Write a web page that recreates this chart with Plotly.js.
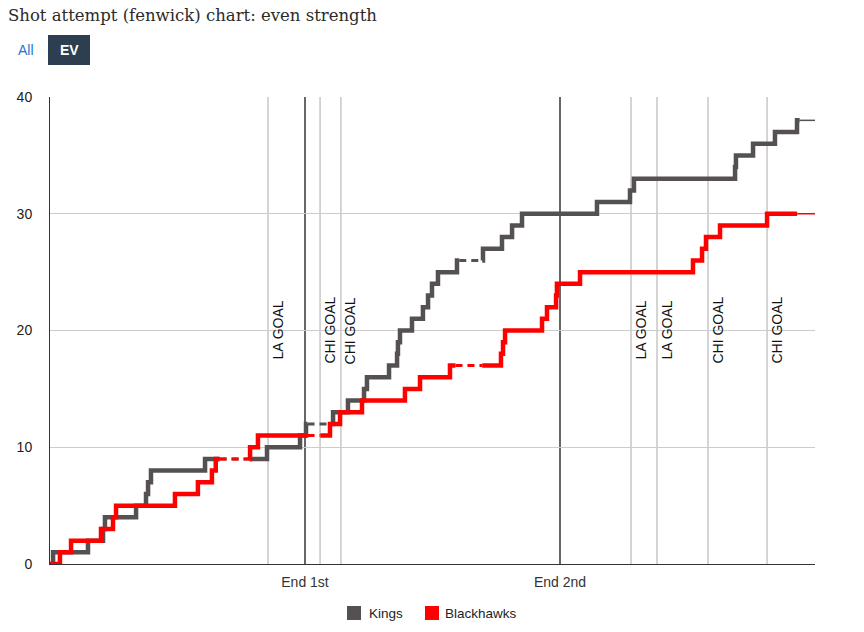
<!DOCTYPE html>
<html>
<head>
<meta charset="utf-8">
<script src="https://cdn.plot.ly/plotly-3.0.1.min.js"></script>
<style>
  html, body { margin: 0; padding: 0; background: #fff; }
  #chart { width: 864px; height: 632px; }
</style>
</head>
<body>
<div id="chart"></div>
<script>
// ---- Data (game time in minutes, cumulative even-strength fenwick) ----
const kingsTimes  = [0.24, 2.98, 4.16, 4.31, 6.75, 7.53, 7.69, 7.92, 12.16, 17.02,
                     19.61, 20.08, 22.2, 23.37, 24.63, 24.86, 26.59, 27.22, 27.29, 27.45,
                     28.39, 29.25, 29.65, 29.96, 30.43, 31.92, 33.96, 35.45, 36.24, 37.02,
                     42.9, 45.49, 45.8, 53.73, 53.8, 55.14, 56.86, 58.59];
const kingsCounts = [1, 2, 3, 4, 5, 6, 7, 8, 9, 10,
                     11, 12, 13, 14, 15, 16, 17, 18, 19, 20,
                     21, 22, 23, 24, 25, 26, 27, 28, 29, 30,
                     31, 32, 33, 34, 35, 36, 37, 38];
const hawksTimes  = [0.78, 1.65, 4.0, 4.94, 5.18, 9.8, 11.6, 12.7, 13.0, 15.69,
                     16.31, 21.96, 22.75, 24.47, 27.84, 29.02, 31.37, 35.37, 35.53, 35.69,
                     38.59, 38.98, 39.69, 39.76, 41.57, 50.43, 51.14, 51.45, 52.55, 56.24];
const hawksCounts = [1, 2, 3, 4, 5, 6, 7, 8, 9, 10,
                     11, 12, 13, 14, 15, 16, 17, 18, 19, 20,
                     21, 22, 23, 24, 25, 26, 27, 28, 29, 30];
// not-even-strength stretches (drawn dashed) and the trailing stretch (thin)
const kingsDashed = [[13.3, 15.65], [20.2, 22.0], [32.1, 33.9]];
const hawksDashed = [[13.3, 15.65], [20.2, 21.2], [31.8, 33.9]];
const kingsTailFrom = 58.8;
const hawksTailFrom = 58.6;
const gameEnd = 60;

const periodEnds   = [20, 40];
const periodLabels = ['End 1st', 'End 2nd'];
const goalTimes  = [17.1, 21.18, 22.82, 45.57, 47.61, 51.61, 56.24];
const goalLabels = ['LA GOAL', 'CHI GOAL', 'CHI GOAL', 'LA GOAL', 'LA GOAL', 'CHI GOAL', 'CHI GOAL'];
const yTicks = [0, 10, 20, 30, 40];

const kingsName = 'Kings', hawksName = 'Blackhawks';
const kingsColor = '#555152', hawksColor = '#ff0000';

// ---- helpers ----
function stepPoints(times, counts) {
  const pts = [[0, 0]];
  let prev = 0;
  times.forEach((t, i) => { pts.push([t, prev]); pts.push([t, counts[i]]); prev = counts[i]; });
  pts.push([gameEnd, prev]);
  return pts;
}
function valueAt(times, counts, t) {
  let v = 0;
  times.forEach((tt, i) => { if (tt <= t) v = counts[i]; });
  return v;
}
function solidPath(pts, gaps) {
  const xs = [], ys = [];
  for (let i = 0; i < pts.length - 1; i++) {
    const [x0, y0] = pts[i], [x1, y1] = pts[i + 1];
    if (i === 0) { xs.push(x0); ys.push(y0); }
    if (y0 === y1) {
      gaps.filter(g => g[0] >= x0 - 1e-9 && g[1] <= x1 + 1e-9)
          .sort((a, b) => a[0] - b[0])
          .forEach(g => { xs.push(g[0], null, g[1]); ys.push(y0, null, y0); });
    }
    xs.push(x1); ys.push(y1);
  }
  return { xs, ys };
}
function gapPath(times, counts, gaps) {
  const xs = [], ys = [];
  gaps.forEach(g => {
    const v = valueAt(times, counts, g[0]);
    xs.push(g[0], g[1], null); ys.push(v, v, null);
  });
  return { xs, ys };
}

function teamTraces(name, color, times, counts, dashed, tailFrom) {
  const pts = stepPoints(times, counts);
  const tail = [[tailFrom, gameEnd]];
  const solid = solidPath(pts, dashed.concat(tail));
  const dash = gapPath(times, counts, dashed);
  const thin = gapPath(times, counts, tail);
  return [
    { x: solid.xs, y: solid.ys, mode: 'lines', type: 'scatter', name: name, showlegend: false,
      line: { color: color, width: 4.5 }, hoverinfo: 'skip', connectgaps: false },
    { x: dash.xs, y: dash.ys, mode: 'lines', type: 'scatter', showlegend: false,
      line: { color: color, width: 3, dash: '7px,5px' }, hoverinfo: 'skip' },
    { x: thin.xs, y: thin.ys, mode: 'lines', type: 'scatter', showlegend: false,
      line: { color: color, width: 1.5 }, hoverinfo: 'skip' }
  ];
}

const traces = []
  .concat(teamTraces(kingsName, kingsColor, kingsTimes, kingsCounts, kingsDashed, kingsTailFrom))
  .concat(teamTraces(hawksName, hawksColor, hawksTimes, hawksCounts, hawksDashed, hawksTailFrom));

// ---- layout ----
const L = 50, R = 49, T = 97, B = 68, W = 864, H = 632;
const pw = W - L - R, ph = H - T - B;
const px = x => (x - L) / pw;
const py = y => (H - B - y) / ph;

const sansFont = 'Liberation Sans, Arial, sans-serif';
const shapes = [];
goalTimes.forEach(t => shapes.push({ type: 'line', xref: 'x', yref: 'y', x0: t, x1: t, y0: 0, y1: 40,
  line: { color: '#ababab', width: 1 }, layer: 'below' }));
periodEnds.forEach(t => shapes.push({ type: 'line', xref: 'x', yref: 'y', x0: t, x1: t, y0: 0, y1: 40,
  line: { color: '#000', width: 1.2 }, layer: 'below' }));
// EV button background
shapes.push({ type: 'rect', xref: 'paper', yref: 'paper', x0: px(48), x1: px(90), y0: py(65), y1: py(35),
  fillcolor: '#2c3e50', line: { width: 0 } });

const annotations = goalTimes.map((t, i) => ({
  x: t, y: 20, xref: 'x', yref: 'y', text: goalLabels[i], showarrow: false, textangle: -90,
  xanchor: 'center', yanchor: 'middle', xshift: 9,
  font: { family: sansFont, size: 14, color: '#111' }
}));
annotations.push({ x: px(26), y: py(50), xref: 'paper', yref: 'paper', text: 'All', showarrow: false,
  xanchor: 'center', yanchor: 'middle', font: { family: sansFont, size: 14, color: '#1a78d2' } });
annotations.push({ x: px(69), y: py(50), xref: 'paper', yref: 'paper', text: '<b>EV</b>', showarrow: false,
  xanchor: 'center', yanchor: 'middle', font: { family: sansFont, size: 14, color: '#ffffff' } });

// legend (swatch + name), laid out below the plot
const legendItems = [
  { name: kingsName, color: kingsColor, sx: 347, tx: 367 },
  { name: hawksName, color: hawksColor, sx: 425, tx: 443 }
];
legendItems.forEach(it => {
  shapes.push({ type: 'rect', xref: 'paper', yref: 'paper', x0: px(it.sx), x1: px(it.sx + 14),
    y0: py(620), y1: py(606), fillcolor: it.color, line: { width: 0 } });
  annotations.push({ x: px(it.tx), y: py(613), xref: 'paper', yref: 'paper', text: it.name, showarrow: false,
    xanchor: 'left', yanchor: 'middle', font: { family: sansFont, size: 13.5, color: '#222' } });
});

const layout = {
  width: W, height: H,
  margin: { l: L, r: R, t: T, b: B, pad: 0, autoexpand: false },
  paper_bgcolor: '#fff', plot_bgcolor: '#fff',
  title: { text: 'Shot attempt (fenwick) chart: even strength', xref: 'container', yref: 'container',
    x: 8 / W, xanchor: 'left', y: 1 - 15 / H, yanchor: 'middle',
    font: { family: 'DejaVu Serif, serif', size: 16.5, color: '#2b2b2b' } },
  xaxis: { range: [0, gameEnd], tickvals: periodEnds, ticktext: periodLabels, showgrid: false, zeroline: false,
    showline: true, linecolor: '#333', linewidth: 1, ticks: '', ticklabelstandoff: 5,
    tickfont: { family: sansFont, size: 14, color: '#333' }, fixedrange: true },
  yaxis: { range: [0, 40], tickvals: yTicks, showgrid: true, gridcolor: '#cccccc', gridwidth: 1, zeroline: false,
    showline: true, linecolor: '#333', linewidth: 1, ticks: '', ticklabelstandoff: 14,
    tickfont: { family: sansFont, size: 14, color: '#222' }, fixedrange: true },
  shapes: shapes,
  annotations: annotations,
  showlegend: false
};

Plotly.newPlot('chart', traces, layout, { displayModeBar: false, staticPlot: true });
</script>
</body>
</html>
